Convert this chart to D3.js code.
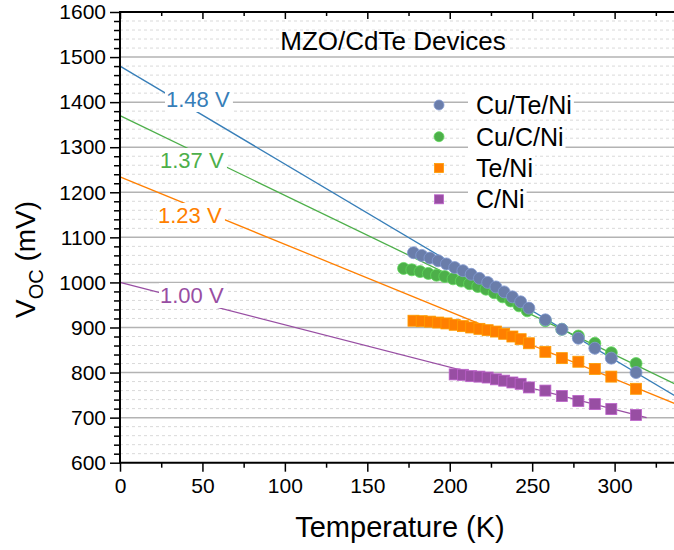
<!DOCTYPE html>
<html>
<head>
<meta charset="utf-8">
<script src="https://cdn.jsdelivr.net/npm/d3@7"></script>
<style>
  body { margin: 0; background: #fff; }
  svg { display: block; }
  text { font-family: "Liberation Sans", Arial, Helvetica, sans-serif; fill: #000; }
</style>
</head>
<body>
<svg id="chart" width="674" height="550"></svg>
<script>
// ---- data -------------------------------------------------------------
const seriesNames  = ["Cu/Te/Ni", "Cu/C/Ni", "Te/Ni", "C/Ni"];
const seriesColors = ["#6a7daa", "#4daf4a", "#ff7f00", "#984ea3"];
const seriesShapes = ["circle", "circle", "square", "square"];

const tempCuTeNi = [178, 183, 188, 193, 198, 203, 208, 213, 218, 223, 228, 233, 238, 243, 248, 258, 268, 278, 288, 298, 313];
const vocCuTeNi  = [1066, 1060, 1054, 1048, 1041, 1033, 1026, 1018, 1009, 1000, 990, 979, 968, 957, 943, 917, 896, 876, 854, 832, 800];

const tempCuCNi = [172, 177, 182, 187, 192, 197, 202, 207, 212, 217, 222, 227, 232, 237, 242, 247, 258, 268, 278, 288, 298, 313];
const vocCuCNi  = [1031, 1028, 1024, 1020, 1016, 1013, 1008, 1003, 997, 991, 985, 977, 968, 959, 948, 937, 915, 896, 881, 865, 844, 820];

const tempTeNi = [178, 183, 188, 193, 198, 203, 208, 213, 218, 223, 228, 233, 238, 243, 248, 258, 268, 278, 288, 298, 313];
const vocTeNi  = [915, 914, 913, 911, 909, 906, 903, 900, 897, 894, 891, 886, 880, 874, 865, 846, 832, 824, 808, 791, 764];

const tempCNi = [203, 208, 213, 218, 223, 228, 233, 238, 243, 248, 258, 268, 278, 288, 298, 313];
const vocCNi  = [796, 795, 792, 791, 789, 785, 782, 778, 775, 767, 760, 748, 737, 730, 719, 706];

// linear fits, extrapolated to 0 K (intercept in mV, slope in mV/K)
const fitIntercepts = [1480, 1370, 1234, 1000];
const fitSlopes     = [-2.173, -1.768, -1.494, -0.94];
const fitEndTemps   = [340, 340, 340, 319.4];
const fitColors     = ["#377eb8", "#4daf4a", "#ff7f00", "#984ea3"];

const xTicks      = [0, 50, 100, 150, 200, 250, 300];
const xMinorTicks = [25, 75, 125, 175, 225, 275, 325];
const yTicks      = [600, 700, 800, 900, 1000, 1100, 1200, 1300, 1400, 1500, 1600];
const yMinorTicks = d3.range(620, 1600, 20).filter(v => v % 100 !== 0);

const chartTitle = "MZO/CdTe Devices";
const xTitle = "Temperature (K)";

const seriesTemps = [tempCuTeNi, tempCuCNi, tempTeNi, tempCNi];
const seriesVocs  = [vocCuTeNi, vocCuCNi, vocTeNi, vocCNi];

// ---- layout -----------------------------------------------------------
const svg = d3.select("#chart");
const plotLeft = 120, plotTop = 12, plotBottom = 462.7, plotRight = 674;
const pxPerK = 1.6487;

const x = d3.scaleLinear().domain([0, 340]).range([plotLeft, plotLeft + 340 * pxPerK]);
const y = d3.scaleLinear().domain([600, 1600]).range([plotBottom, plotTop]);

// ---- grid -------------------------------------------------------------
const grid = svg.append("g");
grid.selectAll("line.minor").data(yMinorTicks).join("line")
  .attr("class", "minor")
  .attr("x1", plotLeft).attr("x2", plotRight)
  .attr("y1", d => y(d)).attr("y2", d => y(d))
  .attr("stroke", "#d9d9d9").attr("stroke-width", 1).attr("stroke-dasharray", "3,3");
grid.selectAll("line.major").data(yTicks.filter(v => v > 600 && v < 1600)).join("line")
  .attr("class", "major")
  .attr("x1", plotLeft).attr("x2", plotRight)
  .attr("y1", d => y(d)).attr("y2", d => y(d))
  .attr("stroke", "#b3b3b3").attr("stroke-width", 1.5);

// ---- fit lines --------------------------------------------------------
const fits = svg.append("g");
fitIntercepts.forEach((b, i) => {
  const line = d3.line().x(d => x(d)).y(d => y(b + fitSlopes[i] * d));
  fits.append("path")
    .attr("d", line([0, fitEndTemps[i]]))
    .attr("fill", "none")
    .attr("stroke", fitColors[i])
    .attr("stroke-width", 1.3);
});

// intercept labels with a white backing box
const labelAnchors = [[166, 107], [160, 168], [158, 223], [160, 303]];
fitIntercepts.forEach((b, i) => {
  const g = svg.append("g");
  const t = g.append("text")
    .attr("x", labelAnchors[i][0]).attr("y", labelAnchors[i][1])
    .attr("font-size", 22)
    .style("fill", fitColors[i])
    .text((b / 1000).toFixed(2) + " V");
  const bb = t.node().getBBox();
  g.insert("rect", "text")
    .attr("x", bb.x - 1).attr("y", bb.y)
    .attr("width", bb.width + 4).attr("height", bb.height)
    .attr("fill", "#fff");
});

// ---- markers ----------------------------------------------------------
const drawOrder = [1, 0, 2, 3];
const marks = svg.append("g");
function drawMarker(g, shape, cx, cy, size, color) {
  if (shape === "circle") {
    g.append("circle").attr("cx", cx).attr("cy", cy).attr("r", size / 2)
      .attr("fill", color).attr("stroke", d3.color(color).brighter(0.6)).attr("stroke-width", 0.8);
  } else {
    g.append("rect").attr("x", cx - size / 2).attr("y", cy - size / 2)
      .attr("width", size).attr("height", size)
      .attr("fill", color).attr("stroke", d3.color(color).brighter(0.6)).attr("stroke-width", 0.8);
  }
}
drawOrder.forEach(i => {
  const g = marks.append("g");
  seriesTemps[i].forEach((t, k) => {
    drawMarker(g, seriesShapes[i], x(t), y(seriesVocs[i][k]),
      seriesShapes[i] === "circle" ? 12 : 11, seriesColors[i]);
  });
});

// ---- axes -------------------------------------------------------------
const axisFont = 21;
svg.append("g").attr("transform", `translate(0,${plotBottom})`)
  .call(d3.axisBottom(x).tickValues(xTicks).tickFormat(d3.format("d"))
    .tickSize(9).tickPadding(6.4).tickSizeOuter(0));
svg.append("g").attr("transform", `translate(0,${plotBottom})`)
  .call(d3.axisBottom(x).tickValues(xMinorTicks).tickSize(5).tickFormat("").tickSizeOuter(0));
svg.append("g").attr("transform", `translate(${plotLeft},0)`)
  .call(d3.axisLeft(y).tickValues(yTicks).tickFormat(d3.format("d"))
    .tickSize(10).tickPadding(4).tickSizeOuter(0));
svg.append("g").attr("transform", `translate(${plotLeft},0)`)
  .call(d3.axisLeft(y).tickValues(yMinorTicks).tickSize(6).tickFormat("").tickSizeOuter(0));
// top frame with inward ticks
svg.append("g").attr("transform", `translate(0,${plotTop})`)
  .call(d3.axisBottom(x).tickValues(xTicks).tickSize(7).tickFormat("").tickSizeOuter(0));
svg.append("g").attr("transform", `translate(0,${plotTop})`)
  .call(d3.axisBottom(x).tickValues(xMinorTicks).tickSize(4).tickFormat("").tickSizeOuter(0));

svg.selectAll(".domain").attr("stroke", "none");
svg.selectAll(".tick line").attr("stroke", "#000").attr("stroke-width", 1.5);
svg.selectAll(".tick text").attr("font-size", axisFont)
  .attr("font-family", "'Liberation Sans', Arial, sans-serif").style("fill", "#000");
// frame lines on left/top/bottom
svg.append("line").attr("x1", plotLeft).attr("x2", plotRight).attr("y1", plotTop).attr("y2", plotTop)
  .attr("stroke", "#000").attr("stroke-width", 2);
svg.append("line").attr("x1", plotLeft).attr("x2", plotRight).attr("y1", plotBottom).attr("y2", plotBottom)
  .attr("stroke", "#000").attr("stroke-width", 2);
svg.append("line").attr("x1", plotLeft).attr("x2", plotLeft).attr("y1", plotTop - 1).attr("y2", plotBottom + 1)
  .attr("stroke", "#000").attr("stroke-width", 2);

// axis titles
svg.append("text")
  .attr("x", 400).attr("y", 537)
  .attr("text-anchor", "middle")
  .attr("font-size", 29)
  .text(xTitle);

const yt = svg.append("text")
  .attr("transform", "rotate(-90)")
  .attr("x", -318).attr("y", 35)
  .attr("font-size", 28);
yt.append("tspan").text("V");
yt.append("tspan").attr("font-size", 20).attr("dy", 8).text("OC");
yt.append("tspan").attr("dy", -8).text(" (mV)");

// ---- title & legend ---------------------------------------------------
svg.append("text")
  .attr("x", 393).attr("y", 50)
  .attr("text-anchor", "middle")
  .attr("font-size", 26)
  .text(chartTitle);

const legendRows = [105, 136.7, 168, 199.3];
seriesNames.forEach((name, i) => {
  const g = svg.append("g");
  const t = g.append("text")
    .attr("x", 476).attr("y", legendRows[i] + 9)
    .attr("font-size", 25)
    .text(name);
  const bb = t.node().getBBox();
  g.insert("rect", "text")
    .attr("x", 468).attr("y", bb.y)
    .attr("width", bb.x + bb.width + 2 - 468).attr("height", bb.height)
    .attr("fill", "#fff");
  drawMarker(g, seriesShapes[i], 439, legendRows[i], seriesShapes[i] === "circle" ? 10 : 9, seriesColors[i]);
});
</script>
</body>
</html>
